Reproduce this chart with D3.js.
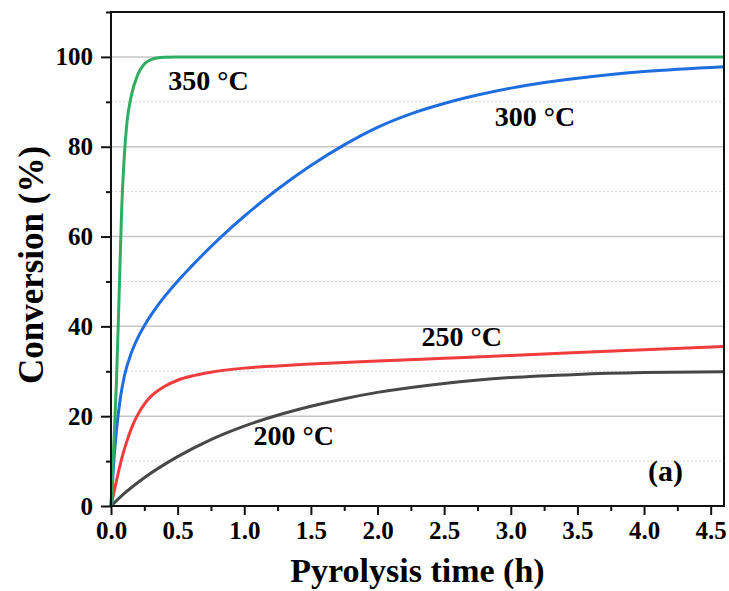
<!DOCTYPE html>
<html>
<head>
<meta charset="utf-8">
<script src="https://cdn.jsdelivr.net/npm/d3@7"></script>
<style>
  html, body { margin: 0; padding: 0; background: #ffffff; }
  #chart { width: 729px; height: 591px; }
</style>
</head>
<body>
<div id="chart"></div>
<script>
// Conversion vs pyrolysis time at four temperatures

const timeTicks = [0, 0.5, 1, 1.5, 2, 2.5, 3, 3.5, 4, 4.5];
const convTicks = [0, 20, 40, 60, 80, 100];

const series350 = [[0, 0], [0.02, 13], [0.04, 27], [0.06, 46], [0.08, 66], [0.1, 78],
  [0.12, 85.5], [0.15, 91], [0.2, 96], [0.25, 98.4], [0.3, 99.4], [0.4, 99.9], [0.5, 100],
  [1, 100], [2, 100], [3, 100], [4, 100], [4.6, 100]];

const series300 = [[0, 0], [0.02, 9.5], [0.04, 16.5], [0.07, 24], [0.1, 28.9], [0.15, 33.9],
  [0.2, 37.4], [0.25, 40.15], [0.3, 42.5], [0.35, 44.63], [0.4, 46.57], [0.5, 50.07],
  [0.6, 53.25], [0.75, 57.75], [0.9, 61.92], [1.0, 64.52], [1.25, 70.52], [1.5, 75.82],
  [1.75, 80.42], [2.0, 84.32], [2.25, 87.32], [2.5, 89.62], [2.75, 91.5], [3.0, 93.05],
  [3.5, 95.25], [4.0, 96.75], [4.6, 97.83]];

const series250 = [[0, 0], [0.04, 5.5], [0.08, 10.5], [0.12, 14.5], [0.16, 17.8], [0.2, 20.3],
  [0.25, 22.7], [0.3, 24.4], [0.4, 26.6], [0.5, 28], [0.6, 28.9], [0.75, 29.8], [1.0, 30.7],
  [1.25, 31.2], [1.5, 31.6], [2.0, 32.3], [2.5, 32.9], [3.0, 33.5], [3.5, 34.2], [4.0, 34.8],
  [4.6, 35.5]];

const series200 = [[0, 0], [0.1, 2.8], [0.25, 6.3], [0.5, 11], [0.75, 14.8], [1.0, 17.8],
  [1.25, 20.2], [1.5, 22.2], [1.75, 23.9], [2.0, 25.3], [2.5, 27.3], [3.0, 28.6], [3.5, 29.3],
  [4.0, 29.7], [4.6, 29.9]];

const seriesNames = ["200 °C", "250 °C", "300 °C", "350 °C"];
const seriesColors = ["#474747", "#f03c3c", "#1f6ee0", "#2fae62"];

function drawChart() {
  const width = 729;
  const height = 591;
  const margin = { top: 12, right: 5, bottom: 85, left: 111 };
  const fontSerif = '"Times New Roman", "Liberation Serif", serif';

  const svg = d3.select("#chart")
    .append("svg")
    .attr("width", width)
    .attr("height", height);

  const x = d3.scaleLinear()
    .domain([0, 4.6])
    .range([margin.left, width - margin.right]);

  const y = d3.scaleLinear()
    .domain([0, 110])
    .range([height - margin.bottom, margin.top]);

  // grid: solid majors, dotted minors
  const minorY = d3.range(10, 110, 20);
  svg.append("g")
    .selectAll("line")
    .data(minorY)
    .join("line")
    .attr("x1", x(0)).attr("x2", x(4.6))
    .attr("y1", function(d) { return y(d); })
    .attr("y2", function(d) { return y(d); })
    .attr("stroke", "#d6d6d6")
    .attr("stroke-width", 1)
    .attr("stroke-dasharray", "2,2");

  svg.append("g")
    .selectAll("line")
    .data(convTicks.filter(function(d) { return d > 0; }))
    .join("line")
    .attr("x1", x(0)).attr("x2", x(4.6))
    .attr("y1", function(d) { return y(d); })
    .attr("y2", function(d) { return y(d); })
    .attr("stroke", "#c6c6c6")
    .attr("stroke-width", 1.5);

  // curves
  const line = d3.line()
    .x(function(d) { return x(d[0]); })
    .y(function(d) { return y(d[1]); })
    .curve(d3.curveMonotoneX);

  const allSeries = [series200, series250, series300, series350];
  svg.append("g")
    .selectAll("path")
    .data(allSeries)
    .join("path")
    .attr("d", line)
    .attr("fill", "none")
    .attr("stroke", function(d, i) { return seriesColors[i]; })
    .attr("stroke-width", 3)
    .attr("stroke-linejoin", "round");

  // axes
  const xAxis = d3.axisBottom(x)
    .tickValues(timeTicks)
    .tickFormat(d3.format(".1f"))
    .tickSize(9)
    .tickPadding(6);
  const xMinor = d3.axisBottom(x)
    .tickValues(d3.range(0.25, 4.6, 0.5))
    .tickFormat("")
    .tickSize(5);

  const yAxis = d3.axisLeft(y)
    .tickValues(convTicks)
    .tickFormat(d3.format("d"))
    .tickSize(10)
    .tickPadding(8);
  const yMinor = d3.axisLeft(y)
    .tickValues(d3.range(10, 111, 20))
    .tickFormat("")
    .tickSize(5);

  function styleAxis(g) {
    g.select(".domain").remove();
    g.selectAll("line").attr("stroke", "#111").attr("stroke-width", 2);
    g.selectAll("text")
      .attr("fill", "#000")
      .attr("font-family", fontSerif)
      .attr("font-weight", "bold")
      .attr("font-size", 25);
  }

  svg.append("g")
    .attr("transform", "translate(0," + y(0) + ")")
    .call(xAxis).call(styleAxis);
  svg.append("g")
    .attr("transform", "translate(0," + y(0) + ")")
    .call(xMinor).call(styleAxis);
  svg.append("g")
    .attr("transform", "translate(" + x(0) + ",0)")
    .call(yAxis).call(styleAxis);
  svg.append("g")
    .attr("transform", "translate(" + x(0) + ",0)")
    .call(yMinor).call(styleAxis);

  // frame
  svg.append("rect")
    .attr("x", x(0))
    .attr("y", y(110))
    .attr("width", x(4.6) - x(0))
    .attr("height", y(0) - y(110))
    .attr("fill", "none")
    .attr("stroke", "#111")
    .attr("stroke-width", 2);

  // series labels
  const labelPos = [[1.07, 445], [2.33, 346], [2.88, 126], [0.43, 90]];
  svg.append("g")
    .selectAll("text")
    .data(seriesNames)
    .join("text")
    .attr("x", function(d, i) { return x(labelPos[i][0]); })
    .attr("y", function(d, i) { return labelPos[i][1]; })
    .attr("font-family", fontSerif)
    .attr("font-weight", "bold")
    .attr("font-size", 28)
    .attr("fill", "#000")
    .text(function(d) { return d; });

  svg.append("text")
    .attr("x", 683)
    .attr("y", 481)
    .attr("text-anchor", "end")
    .attr("font-family", fontSerif)
    .attr("font-weight", "bold")
    .attr("font-size", 30)
    .text("(a)");

  // axis titles
  svg.append("text")
    .attr("x", (x(0) + x(4.6)) / 2)
    .attr("y", 582)
    .attr("text-anchor", "middle")
    .attr("font-family", fontSerif)
    .attr("font-weight", "bold")
    .attr("font-size", 34)
    .text("Pyrolysis time (h)");

  svg.append("text")
    .attr("transform", "translate(43," + 265 + ") rotate(-90)")
    .attr("text-anchor", "middle")
    .attr("font-family", fontSerif)
    .attr("font-weight", "bold")
    .attr("font-size", 35)
    .text("Conversion (%)");
}

drawChart();
</script>
</body>
</html>
